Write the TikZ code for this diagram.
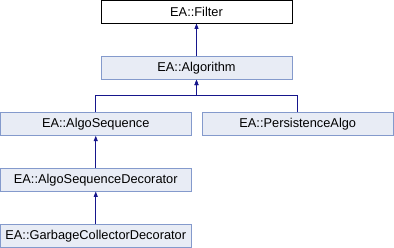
\documentclass[tikz,border=0pt]{standalone}
\usepackage{fontspec}
\setmainfont{Liberation Sans}
\usetikzlibrary{arrows.meta}
\definecolor{boxline}{RGB}{132,154,204}
\definecolor{boxfill}{RGB}{232,236,245}
\definecolor{edgeblue}{RGB}{22,22,140}
\begin{document}
\begin{tikzpicture}[x=1pt,y=1pt]
        \tikzstyle{cls}=[rectangle, draw=boxline, fill=boxfill, line width=0.8pt, minimum width=191pt, minimum height=22.5pt, inner sep=0pt, font=\fontsize{12.8}{15}\selectfont]
        \tikzstyle{root}=[cls, draw=black, fill=white]
        \tikzstyle{inherit}=[-{Triangle[width=4pt,length=5.5pt]}, draw=edgeblue, line width=1pt]

        \useasboundingbox (0,0) rectangle (394,-248);

        \node[root] (filter) at (196.5,-11.75) {EA::Filter};
        \node[cls] (alg) at (196.5,-68) {EA::Algorithm};
        \node[cls] (seq) at (95.75,-124) {EA::AlgoSequence};
        \node[cls] (pers) at (297.75,-124) {EA::PersistenceAlgo};
        \node[cls] (dec) at (95.75,-179.75) {EA::AlgoSequenceDecorator};
        \node[cls] (gc) at (95.75,-235.75) {EA::GarbageCollectorDecorator};
        \coordinate (bar) at (196.5,-96);

        \draw[inherit] (alg) -- (filter);
        \draw[inherit] (seq.north) |- (bar) -- (alg.south);
        \draw[inherit] (pers.north) |- (bar) -- (alg.south);
        \draw[inherit] (dec) -- (seq);
        \draw[inherit] (gc) -- (dec);
    \end{tikzpicture}
\end{document}
